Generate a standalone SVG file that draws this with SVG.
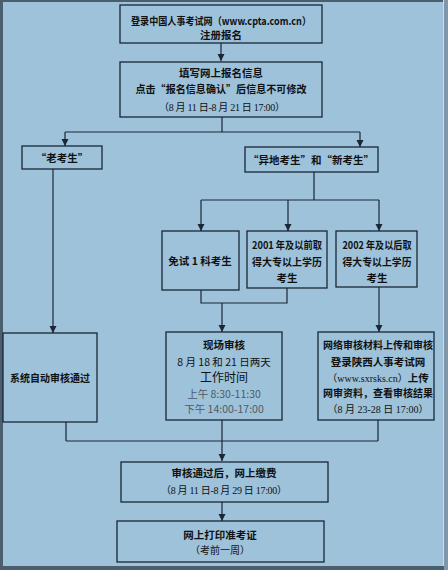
<svg xmlns="http://www.w3.org/2000/svg" width="448" height="570" viewBox="0 0 448 570">
<style>
.bg{fill:#9dc2da}
.box{fill:none;stroke:#1b2636;stroke-width:1.3}
.ln{fill:none;stroke:#1b2636;stroke-width:1.2}
text{font-family:"Noto Sans CJK SC","Liberation Sans",sans-serif;font-size:10.5px;fill:#111;text-anchor:middle}
.b{font-weight:bold}
.s{font-family:"Liberation Serif","Noto Sans CJK SC",serif;font-size:10px}
.g{fill:#505a64}
</style>
<defs>
<marker id="ar" markerUnits="userSpaceOnUse" markerWidth="8" markerHeight="8" refX="7" refY="3.5" orient="auto">
<path d="M0,0 L7,3.5 L0,7 z" fill="#1b2636"/>
</marker>
</defs>
<rect class="bg" x="0" y="0" width="448" height="570"/>
<rect x="0" y="0" width="448" height="2" fill="#4a5e6e"/>
<rect x="0" y="0" width="3" height="570" fill="#4a5e6e"/>
<rect x="0" y="566" width="448" height="4" fill="#4a5e6e"/>
<rect x="443" y="0" width="1" height="566" fill="#c8dcea"/>
<rect x="444" y="0" width="4" height="570" fill="#7f97a8"/>

<g id="connectors">
<path class="ln" d="M221,43 V61" marker-end="url(#ar)"/>
<path class="ln" d="M222,117 V132 M65,132 H360"/>
<path class="ln" d="M65,132 V146" marker-end="url(#ar)"/>
<path class="ln" d="M360,132 V147" marker-end="url(#ar)"/>
<path class="ln" d="M53,169 V333" marker-end="url(#ar)"/>
<path class="ln" d="M314,172 V200 M201,200 H379"/>
<path class="ln" d="M201,200 V231" marker-end="url(#ar)"/>
<path class="ln" d="M288,200 V231" marker-end="url(#ar)"/>
<path class="ln" d="M379,200 V231" marker-end="url(#ar)"/>
<path class="ln" d="M201,290 V303 H287 V288"/>
<path class="ln" d="M222,303 V332" marker-end="url(#ar)"/>
<path class="ln" d="M379,287 V332" marker-end="url(#ar)"/>
<path class="ln" d="M66,422 V441 M222,420 V441 M378,420 V441 M66,441 H378"/>
<path class="ln" d="M222,441 V461" marker-end="url(#ar)"/>
<path class="ln" d="M222,502 V521" marker-end="url(#ar)"/>
</g>

<g id="n1">
<rect class="box" x="120" y="5" width="202" height="38"/>
<text class="b" x="221" y="24.5" textLength="180" lengthAdjust="spacingAndGlyphs">登录中国人事考试网（www.cpta.com.cn）</text>
<text class="b" x="221" y="38.5">注册报名</text>
</g>
<g id="n2">
<rect class="box" x="120" y="62" width="202" height="55"/>
<text class="b" x="221" y="76.5">填写网上报名信息</text>
<text class="b" x="221" y="93" textLength="171" lengthAdjust="spacingAndGlyphs">点击“报名信息确认”后信息不可修改</text>
<text class="s" x="222" y="110.5" textLength="126">（8 月 11 日-8 月 21 日 17:00）</text>
</g>
<g id="n3">
<rect class="box" x="22" y="146" width="80" height="23"/>
<text class="b" x="62" y="161.5">“老考生”</text>
</g>
<g id="n4">
<rect class="box" x="245" y="147" width="133" height="25"/>
<text class="b" x="311" y="163.5">“异地考生”和“新考生”</text>
</g>
<g id="n5">
<rect class="box" x="162" y="231" width="77" height="59"/>
<text class="b" x="200" y="265">免试 1 科考生</text>
</g>
<g id="n6">
<rect class="box" x="247" y="231" width="80" height="57"/>
<text class="b" x="287" y="249" textLength="70" lengthAdjust="spacingAndGlyphs">2001 年及以前取</text>
<text class="b" x="287" y="265.5" textLength="70" lengthAdjust="spacingAndGlyphs">得大专以上学历</text>
<text class="b" x="287" y="282">考生</text>
</g>
<g id="n7">
<rect class="box" x="336" y="231" width="81" height="56"/>
<text class="b" x="377" y="249" textLength="69" lengthAdjust="spacingAndGlyphs">2002 年及以后取</text>
<text class="b" x="377" y="265.5" textLength="69" lengthAdjust="spacingAndGlyphs">得大专以上学历</text>
<text class="b" x="377" y="282">考生</text>
</g>
<g id="n8">
<rect class="box" x="3" y="333" width="94" height="89"/>
<text class="b" x="50" y="382" textLength="80" lengthAdjust="spacingAndGlyphs">系统自动审核通过</text>
</g>
<g id="n9">
<rect class="box" x="166" y="332" width="116" height="88"/>
<text class="b" x="224" y="349">现场审核</text>
<text x="224" y="366">8 月 18 和 21 日两天</text>
<text x="224" y="382" style="font-size:12px">工作时间</text>
<text class="g" x="224" y="397.5">上午 8:30-11:30</text>
<text class="g" x="224" y="413">下午 14:00-17:00</text>
</g>
<g id="n10">
<rect class="box" x="318" y="332" width="116" height="88"/>
<text class="b" x="378" y="349" textLength="110" lengthAdjust="spacingAndGlyphs">网络审核材料上传和审核</text>
<text class="b" x="378" y="365.5">登录陕西人事考试网</text>
<text x="378" y="381.5"><tspan class="s">（www.sxrsks.cn）</tspan><tspan class="b">上传</tspan></text>
<text class="b" x="378" y="397" textLength="110" lengthAdjust="spacingAndGlyphs">网审资料，查看审核结果</text>
<text class="s" x="378" y="413">（8 月 23-28 日 17:00）</text>
</g>
<g id="n11">
<rect class="box" x="121" y="462" width="207" height="40"/>
<text class="b" x="224" y="477">审核通过后，网上缴费</text>
<text class="s" x="224" y="494" textLength="126">（8 月 11 日-8 月 29 日 17:00）</text>
</g>
<g id="n12">
<rect class="box" x="117" y="521" width="207" height="41"/>
<text class="b" x="220" y="539">网上打印准考证</text>
<text class="s" x="220" y="554">（考前一周）</text>
</g>
</svg>
